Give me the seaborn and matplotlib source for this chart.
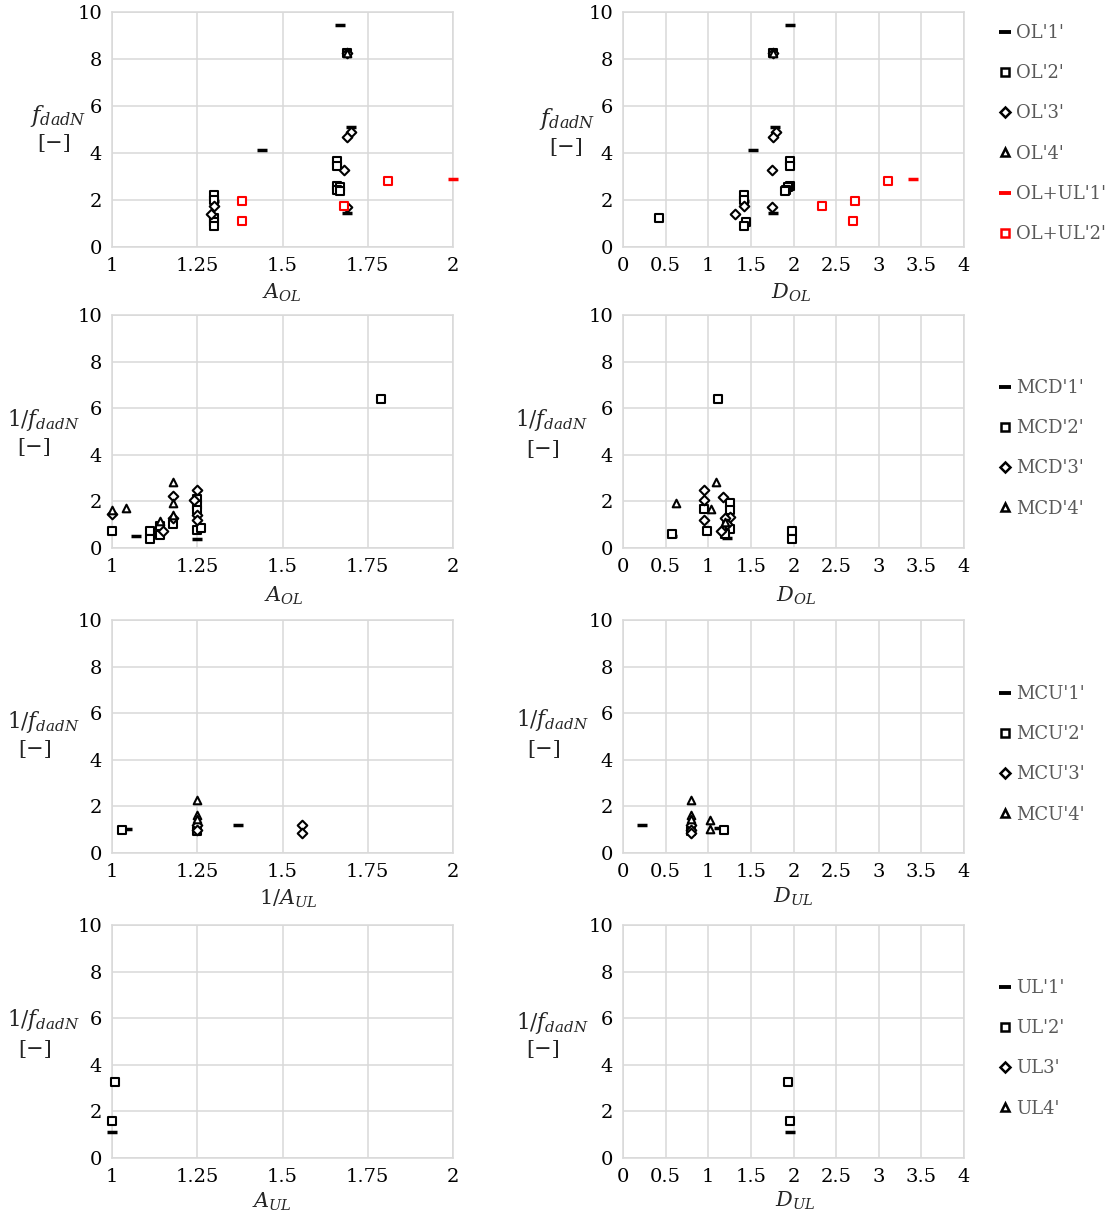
import numpy as np
import pandas as pd
import matplotlib
matplotlib.use("Agg")
import matplotlib.pyplot as plt
import seaborn as sns
from matplotlib.lines import Line2D

# ---------------- data ----------------
# Row 1 : OL series (x = A_OL for left panel, D_OL for right panel)
ol1_y = [9.44, 4.13, 5.10, 1.45, 1.95]
ol1_A = [1.67, 1.44, 1.70, 1.69, 1.30]
ol1_D = [1.96, 1.53, 1.78, 1.76, 1.42]

ol2_y = [8.25, 3.68, 3.45, 2.60, 2.55, 2.42, 2.38, 2.22, 2.00, 1.25, 1.05, 0.90]
ol2_A = [1.69, 1.66, 1.66, 1.66, 1.67, 1.66, 1.67, 1.30, 1.30, 1.30, 1.30, 1.30]
ol2_D = [1.76, 1.96, 1.96, 1.96, 1.93, 1.91, 1.90, 1.42, 1.42, 0.42, 1.44, 1.42]

ol3_y = [8.25, 4.90, 4.70, 3.29, 1.70, 1.75, 1.39]
ol3_A = [1.69, 1.70, 1.69, 1.68, 1.69, 1.30, 1.29]
ol3_D = [1.76, 1.79, 1.76, 1.75, 1.75, 1.42, 1.31]

ol4_y = [8.25]
ol4_A = [1.69]
ol4_D = [1.76]

olul1_y = [2.89]
olul1_A = [2.00]
olul1_D = [3.40]

olul2_y = [1.75, 1.96, 1.12, 2.80]
olul2_A = [1.68, 1.38, 1.38, 1.81]
olul2_D = [2.34, 2.72, 2.70, 3.11]

# Row 2 : MCD series, left panel (A_OL)
mcd1_A = [1.07, 1.25]
mcd1_Ay = [0.53, 0.39]
mcd2_A = [1.79, 1.00, 1.11, 1.11, 1.14, 1.14, 1.25, 1.25, 1.25, 1.25, 1.26, 1.18]
mcd2_Ay = [6.39, 0.74, 0.75, 0.39, 0.93, 0.57, 2.10, 1.86, 1.64, 0.78, 0.86, 1.05]
mcd3_A = [1.00, 1.15, 1.18, 1.18, 1.25, 1.24, 1.25, 1.25]
mcd3_Ay = [1.47, 0.71, 2.24, 1.30, 2.47, 2.07, 1.43, 1.21]
mcd4_A = [1.00, 1.04, 1.14, 1.18, 1.18, 1.18]
mcd4_Ay = [1.64, 1.71, 1.14, 2.85, 1.95, 1.40]
# Row 2 : MCD series, right panel (D_OL)
mcd1_D = [0.58, 1.22]
mcd1_Dy = [0.50, 0.45]
mcd2_D = [1.12, 0.58, 0.99, 0.95, 1.25, 1.26, 1.98, 1.98, 1.22, 1.25, 1.20]
mcd2_Dy = [6.39, 0.58, 0.71, 1.67, 1.93, 1.64, 0.73, 0.38, 0.95, 0.80, 0.60]
mcd3_D = [0.95, 0.95, 0.95, 1.17, 1.25, 1.20, 1.15, 1.22]
mcd3_Dy = [2.47, 2.07, 1.21, 2.21, 1.35, 1.30, 0.75, 1.05]
mcd4_D = [1.09, 0.62, 1.03, 1.20]
mcd4_Dy = [2.85, 1.95, 1.67, 1.10]

# Row 3 : MCU series, left panel (1/A_UL)
mcu1_A = [1.045, 1.37]
mcu1_Ay = [1.05, 1.19]
mcu2_A = [1.03, 1.25]
mcu2_Ay = [0.99, 0.95]
mcu3_A = [1.25, 1.25, 1.557, 1.557]
mcu3_Ay = [1.20, 1.00, 1.19, 0.84]
mcu4_A = [1.248, 1.25, 1.25]
mcu4_Ay = [2.27, 1.65, 1.45]
# Row 3 : MCU series, right panel (D_UL)
mcu1_D = [0.22, 1.13]
mcu1_Dy = [1.19, 1.08]
mcu2_D = [1.19, 0.80]
mcu2_Dy = [1.00, 0.95]
mcu3_D = [0.80, 0.80, 0.80]
mcu3_Dy = [1.20, 1.00, 0.85]
mcu4_D = [0.795, 0.80, 0.80, 1.02, 1.02]
mcu4_Dy = [2.27, 1.65, 1.45, 1.40, 1.05]

# Row 4 : UL series
ul1_y = [1.11]
ul1_A = [1.00]
ul1_D = [1.96]
ul2_y = [3.26, 1.57]
ul2_A = [1.008, 1.00]
ul2_D = [1.94, 1.96]

# labels / ticks
legend_rows = [
    ["OL'1'", "OL'2'", "OL'3'", "OL'4'", "OL+UL'1'", "OL+UL'2'"],
    ["MCD'1'", "MCD'2'", "MCD'3'", "MCD'4'"],
    ["MCU'1'", "MCU'2'", "MCU'3'", "MCU'4'"],
    ["UL'1'", "UL'2'", "UL3'", "UL4'"],
]
xticks_A = [1, 1.25, 1.5, 1.75, 2]
xticklabels_A = ["1", "1.25", "1.5", "1.75", "2"]
xticks_D = [0, 0.5, 1, 1.5, 2, 2.5, 3, 3.5, 4]
xticklabels_D = ["0", "0.5", "1", "1.5", "2", "2.5", "3", "3.5", "4"]
yticks = [0, 2, 4, 6, 8, 10]
xlabels = [["$A_{OL}$", "$D_{OL}$"], ["$A_{OL}$", "$D_{OL}$"],
           ["$1/A_{UL}$", "$D_{UL}$"], ["$A_{UL}$", "$D_{UL}$"]]
ylabels = ["$f_{dadN}$", "$1/f_{dadN}$", "$1/f_{dadN}$", "$1/f_{dadN}$"]

# ---------------- style ----------------
sns.set_theme(style="white")
plt.rcParams['font.family'] = ['DejaVu Serif']
plt.rcParams['mathtext.fontset'] = 'dejavuserif'

W, H = 1114, 1218
fig = plt.figure(figsize=(W / 100, H / 100), dpi=100)

rows_tb = [(12, 247), (315, 548), (620, 853), (925, 1158)]
cols_lr = [(112, 453), (623, 964)]

GRID = '#d9d9d9'
MARK = {
    'dash': dict(marker='_', s=55, linewidth=2.5),
    'sq': dict(marker='s', s=32, linewidth=1.5),
    'dia': dict(marker='D', s=24, linewidth=1.5),
    'tri': dict(marker='^', s=30, linewidth=1.5),
}
kinds = ['dash', 'sq', 'dia', 'tri']


def draw(ax, x, y, kind, color='black'):
    kw = dict(MARK[kind])
    if kind == 'dash':
        sns.scatterplot(x=x, y=y, ax=ax, color=color, legend=False,
                        clip_on=False, zorder=3, **kw)
    else:
        sns.scatterplot(x=x, y=y, ax=ax, color=color, facecolor='white',
                        edgecolor=color, legend=False, clip_on=False,
                        zorder=3, **kw)


axes = []
for r, (t, b) in enumerate(rows_tb):
    row = []
    for c, (l, rr) in enumerate(cols_lr):
        ax = fig.add_axes([l / W, 1 - b / H, (rr - l) / W, (b - t) / H])
        if c == 0:
            ax.set_xlim(1, 2)
            ax.set_xticks(xticks_A)
            ax.set_xticklabels(xticklabels_A)
        else:
            ax.set_xlim(0, 4)
            ax.set_xticks(xticks_D)
            ax.set_xticklabels(xticklabels_D)
        ax.set_ylim(0, 10)
        ax.set_yticks(yticks)
        ax.set_yticklabels([str(v) for v in yticks])
        ax.grid(True, color=GRID, linewidth=1.1)
        ax.set_axisbelow(True)
        for s in ax.spines.values():
            s.set_color(GRID)
            s.set_linewidth(1.1)
        ax.tick_params(length=0, labelsize=14, pad=7, colors='black')
        row.append(ax)
    axes.append(row)

# Row 1
a, d = axes[0]
draw(a, ol1_A, ol1_y, 'dash'); draw(d, ol1_D, ol1_y, 'dash')
draw(a, ol2_A, ol2_y, 'sq'); draw(d, ol2_D, ol2_y, 'sq')
draw(a, ol3_A, ol3_y, 'dia'); draw(d, ol3_D, ol3_y, 'dia')
draw(a, ol4_A, ol4_y, 'tri'); draw(d, ol4_D, ol4_y, 'tri')
draw(a, olul1_A, olul1_y, 'dash', 'red'); draw(d, olul1_D, olul1_y, 'dash', 'red')
draw(a, olul2_A, olul2_y, 'sq', 'red'); draw(d, olul2_D, olul2_y, 'sq', 'red')

# Row 2
a, d = axes[1]
for xs, ys, k in [(mcd1_A, mcd1_Ay, 'dash'), (mcd2_A, mcd2_Ay, 'sq'),
                  (mcd3_A, mcd3_Ay, 'dia'), (mcd4_A, mcd4_Ay, 'tri')]:
    draw(a, xs, ys, k)
for xs, ys, k in [(mcd1_D, mcd1_Dy, 'dash'), (mcd2_D, mcd2_Dy, 'sq'),
                  (mcd3_D, mcd3_Dy, 'dia'), (mcd4_D, mcd4_Dy, 'tri')]:
    draw(d, xs, ys, k)

# Row 3
a, d = axes[2]
for xs, ys, k in [(mcu1_A, mcu1_Ay, 'dash'), (mcu2_A, mcu2_Ay, 'sq'),
                  (mcu3_A, mcu3_Ay, 'dia'), (mcu4_A, mcu4_Ay, 'tri')]:
    draw(a, xs, ys, k)
for xs, ys, k in [(mcu1_D, mcu1_Dy, 'dash'), (mcu2_D, mcu2_Dy, 'sq'),
                  (mcu3_D, mcu3_Dy, 'dia'), (mcu4_D, mcu4_Dy, 'tri')]:
    draw(d, xs, ys, k)

# Row 4
a, d = axes[3]
draw(a, ul1_A, ul1_y, 'dash'); draw(d, ul1_D, ul1_y, 'dash')
draw(a, ul2_A, ul2_y, 'sq'); draw(d, ul2_D, ul2_y, 'sq')

for ax in fig.axes:
    ax.set_xlabel('')
    ax.set_ylabel('')

# ---------------- axis labels ----------------
def ftext(px, py, s, **kw):
    fig.text(px / W, 1 - py / H, s, ha='center', va='center', **kw)

xlab_pos = [[(282, 293), (791, 293)], [(284, 596), (796, 596)],
            [(288, 899), (793, 897)], [(272, 1202), (795, 1201)]]
for r in range(4):
    for c in range(2):
        ftext(*xlab_pos[r][c], xlabels[r][c], fontsize=15)

ylab_pos = [[(58, 116), (567, 119)], [(43, 420), (551, 420)],
            [(43, 722), (552, 720)], [(43, 1020), (552, 1023)]]
br_pos = [[(54, 143), (566, 147)], [(34, 448), (543, 450)],
          [(35, 750), (544, 750)], [(35, 1050), (543, 1050)]]
for r in range(4):
    for c in range(2):
        ftext(*ylab_pos[r][c], ylabels[r], fontsize=16.5 if r == 0 else 15.5)
        ftext(*br_pos[r][c], "[\u2212]", fontsize=15)

# ---------------- legends ----------------
def handle(kind, color='black'):
    if kind == 'dash':
        return Line2D([], [], marker='_', linestyle='', color=color,
                      markersize=8, markeredgewidth=2.8)
    m = {'sq': 's', 'dia': 'D', 'tri': '^'}[kind]
    ms = {'sq': 6, 'dia': 5.2, 'tri': 6}[kind]
    return Line2D([], [], marker=m, linestyle='', markerfacecolor='white',
                  markeredgecolor=color, markersize=ms, markeredgewidth=1.8)

leg_handles = [
    [handle('dash'), handle('sq'), handle('dia'), handle('tri'),
     handle('dash', 'red'), handle('sq', 'red')],
    [handle(k) for k in kinds],
    [handle(k) for k in kinds],
    [handle(k) for k in kinds],
]
leg_top = [24, 379, 685, 979]
for r in range(4):
    lg = fig.legend(leg_handles[r], legend_rows[r], loc='upper left',
                    bbox_to_anchor=(998 / W, 1 - leg_top[r] / H),
                    frameon=False, fontsize=13, handlelength=0.8,
                    handletextpad=0.2, labelspacing=1.23, borderpad=0,
                    borderaxespad=0)
    for tx in lg.get_texts():
        tx.set_color('#595959')

fig.savefig("out.png", dpi=100)
